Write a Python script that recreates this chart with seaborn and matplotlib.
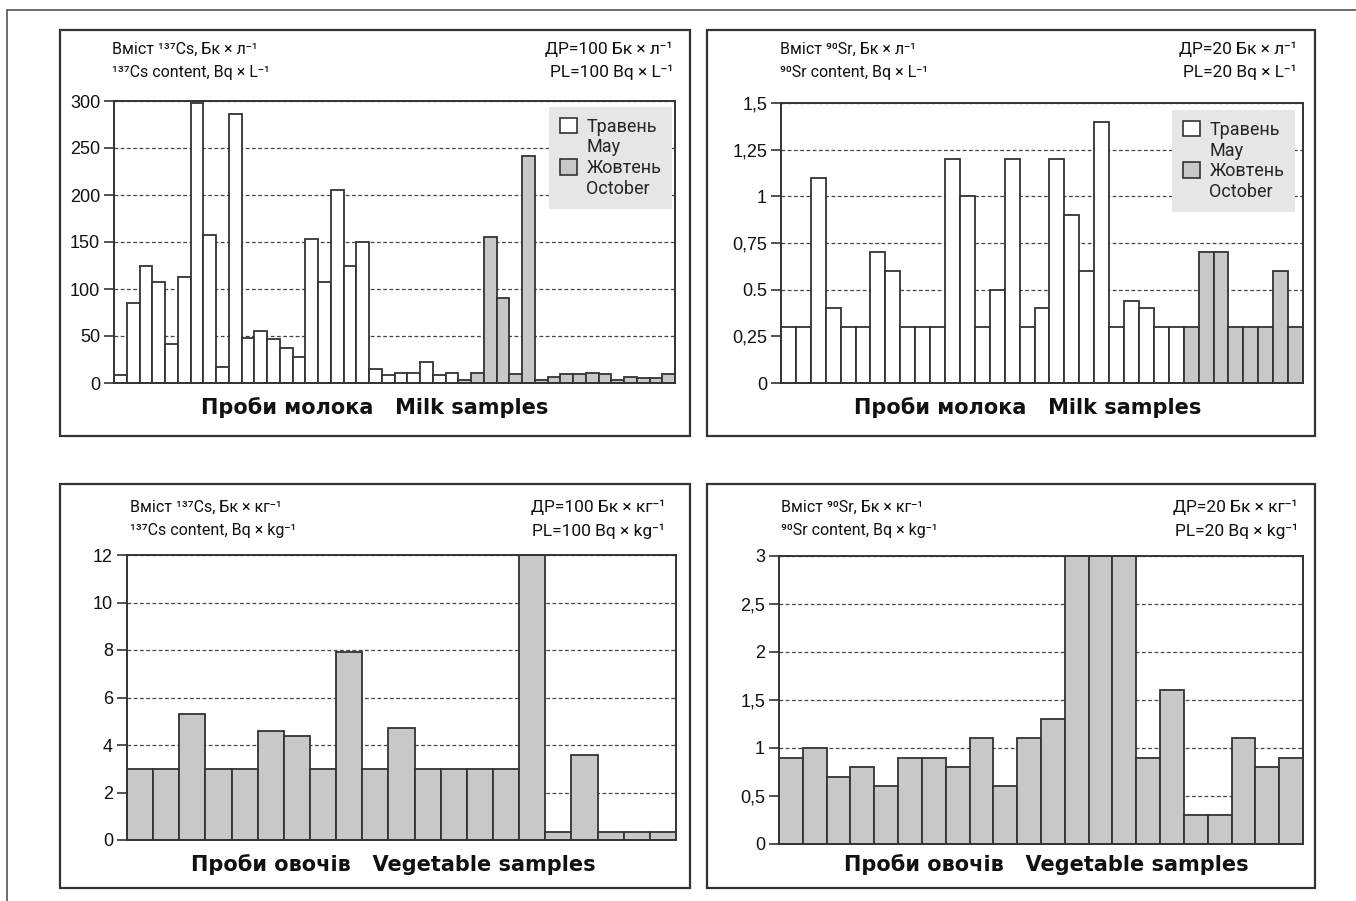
# Вміст 137Cs та 90Sr у пробах молока і овочів
import seaborn as sns
import matplotlib.pyplot as plt
import pandas as pd
from matplotlib.patches import Patch, Rectangle
from matplotlib.lines import Line2D

# --- дані ---
cs_milk = [8, 85, 125, 107, 42, 113, 298, 157, 17, 286, 48, 55, 47, 37, 28,
           153, 107, 205, 125, 150, 15, 8, 11, 11, 22, 8, 11,
           3, 11, 155, 90, 10, 241, 3, 6, 10, 10, 11, 10, 3, 6, 5, 5, 10]
cs_milk_month = ['Травень'] * 27 + ['Жовтень'] * 17

sr_milk = [0.3, 0.3, 1.1, 0.4, 0.3, 0.3, 0.7, 0.6, 0.3, 0.3, 0.3, 1.2, 1.0, 0.3,
           0.5, 1.2, 0.3, 0.4, 1.2, 0.9, 0.6, 1.4, 0.3, 0.44, 0.4, 0.3, 0.3,
           0.3, 0.7, 0.7, 0.3, 0.3, 0.3, 0.6, 0.3]
sr_milk_month = ['Травень'] * 27 + ['Жовтень'] * 8

cs_veg = [3, 3, 5.3, 3, 3, 4.6, 4.4, 3, 7.9, 3, 4.7, 3, 3, 3, 3, 12,
          0.35, 3.6, 0.35, 0.35, 0.35]
sr_veg = [0.9, 1.0, 0.7, 0.8, 0.6, 0.9, 0.9, 0.8, 1.1, 0.6, 1.1, 1.3, 3, 3, 3,
          0.9, 1.6, 0.3, 0.3, 1.1, 0.8, 0.9]

cs_ticks = [0, 50, 100, 150, 200, 250, 300]
sr_ticks = [0, 0.25, 0.5, 0.75, 1, 1.25, 1.5]
sr_labels = ['0', '0,25', '0.5', '0,75', '1', '1,25', '1,5']
cs_veg_ticks = [0, 2, 4, 6, 8, 10, 12]
sr_veg_ticks = [0, 0.5, 1, 1.5, 2, 2.5, 3]
sr_veg_labels = ['0', '0,5', '1', '1,5', '2', '2,5', '3']

W, H = 1356, 901
GRAY = '#c8c8c8'
EDGE = '#333333'
NARROW = ['Roboto', 'DejaVu Sans']

sns.set_style('white')
plt.rcParams['font.family'] = ['Liberation Sans', 'DejaVu Sans']

fig = plt.figure(figsize=(W / 100, H / 100), dpi=100)


def px_axes(x0, x1, y0, y1):
    return fig.add_axes([x0 / W, 1 - y1 / H, (x1 - x0) / W, (y1 - y0) / H])


def px_box(x0, x1, y0, y1):
    fig.add_artist(Rectangle((x0 / W, 1 - y1 / H), (x1 - x0) / W, (y1 - y0) / H,
                             transform=fig.transFigure, fill=False,
                             edgecolor=EDGE, linewidth=1.6))


def px_text(x, y, s, **kw):
    fig.text(x / W, 1 - y / H, s, va='center', **kw)


def draw(ax, vals, months, ticks, labels, top):
    df = pd.DataFrame({'n': range(len(vals)), 'v': vals})
    if months is None:
        sns.barplot(data=df, x='n', y='v', color=GRAY, saturation=1, width=1,
                    edgecolor=EDGE, linewidth=1.3, ax=ax)
    else:
        df['m'] = months
        sns.barplot(data=df, x='n', y='v', hue='m', dodge=False, saturation=1,
                    palette={'Травень': 'white', 'Жовтень': GRAY}, width=1,
                    edgecolor=EDGE, linewidth=1.3, legend=False, ax=ax)
    ax.set_xlim(-0.5, len(vals) - 0.5)
    ax.set_ylim(0, top)
    ax.set_xticks([])
    ax.set_yticks(ticks)
    ax.set_yticklabels(labels)
    ax.set_xlabel('')
    ax.set_ylabel('')
    ax.set_axisbelow(True)
    ax.yaxis.grid(True, linestyle=(0, (3, 2)), color='#444444', linewidth=0.9)
    ax.tick_params(axis='y', left=True, length=7, width=1.2, color=EDGE,
                   labelsize=13, pad=3, labelcolor='#111111')
    for sp in ax.spines.values():
        sp.set_visible(True)
        sp.set_color(EDGE)
        sp.set_linewidth(1.4)


def add_legend(ax, anchor):
    handles = [Patch(facecolor='white', edgecolor=EDGE, linewidth=1.2),
               Patch(facecolor='none', edgecolor='none'),
               Patch(facecolor=GRAY, edgecolor=EDGE, linewidth=1.2),
               Patch(facecolor='none', edgecolor='none')]
    labels = ['Травень', 'May', 'Жовтень', 'October']
    leg = ax.legend(handles, labels, loc='upper right', bbox_to_anchor=anchor,
                    borderaxespad=0, frameon=True, fancybox=False,
                    facecolor='#e6e6e6', edgecolor='none', framealpha=1,
                    handlelength=0.95, handleheight=0.95, handletextpad=0.5,
                    labelspacing=0.15, borderpad=0.6,
                    prop={'family': NARROW, 'size': 13})
    leg.set_zorder(5)


# рамка сторінки
fig.add_artist(Line2D([7 / W, 7 / W], [0, 1 - 10 / H], transform=fig.transFigure,
                      color='#555555', linewidth=1.2))
fig.add_artist(Line2D([7 / W, 1], [1 - 10 / H, 1 - 10 / H], transform=fig.transFigure,
                      color='#555555', linewidth=1.2))

# рамки панелей
px_box(60, 690, 30, 436)
px_box(707, 1315, 30, 436)
px_box(60, 690, 484, 888)
px_box(707, 1315, 484, 888)

# 1) 137Cs, молоко
ax1 = px_axes(114, 675, 101, 383)
draw(ax1, cs_milk, cs_milk_month, cs_ticks, [str(t) for t in cs_ticks], 300)
add_legend(ax1, (0.995, 0.979))

# 2) 90Sr, молоко
ax2 = px_axes(781, 1303, 103, 383)
draw(ax2, sr_milk, sr_milk_month, sr_ticks, sr_labels, 1.5)
add_legend(ax2, (0.985, 0.975))

# 3) 137Cs, овочі
ax3 = px_axes(127, 676, 555, 840)
draw(ax3, cs_veg, None, cs_veg_ticks, [str(t) for t in cs_veg_ticks], 12)

# 4) 90Sr, овочі
ax4 = px_axes(779, 1303, 556, 844)
draw(ax4, sr_veg, None, sr_veg_ticks, sr_veg_labels, 3)

# заголовки
hs = dict(family=NARROW, size=11.5, color='#111111')
hr = dict(family=NARROW, size=12.5, color='#111111', ha='right')
px_text(112, 49, 'Вміст ¹³⁷Cs, Бк × л⁻¹', **hs)
px_text(112, 73, '¹³⁷Cs content, Bq × L⁻¹', **hs)
px_text(673, 49, 'ДР=100 Бк × л⁻¹', **hr)
px_text(673, 72, 'PL=100 Bq × L⁻¹', **hr)

px_text(780, 49, 'Вміст ⁹⁰Sr, Бк × л⁻¹', **hs)
px_text(780, 73, '⁹⁰Sr content, Bq × L⁻¹', **hs)
px_text(1297, 49, 'ДР=20 Бк × л⁻¹', **hr)
px_text(1297, 72, 'PL=20 Bq × L⁻¹', **hr)

px_text(130, 507, 'Вміст ¹³⁷Cs, Бк × кг⁻¹', **hs)
px_text(130, 531, '¹³⁷Cs content, Bq × kg⁻¹', **hs)
px_text(665, 507, 'ДР=100 Бк × кг⁻¹', **hr)
px_text(665, 531, 'PL=100 Bq × kg⁻¹', **hr)

px_text(781, 507, 'Вміст ⁹⁰Sr, Бк × кг⁻¹', **hs)
px_text(781, 531, '⁹⁰Sr content, Bq × kg⁻¹', **hs)
px_text(1298, 507, 'ДР=20 Бк × кг⁻¹', **hr)
px_text(1298, 531, 'PL=20 Bq × kg⁻¹', **hr)

# підписи осей
xl = dict(family=['DejaVu Sans'], size=15, weight='bold', color='#111111', ha='center')
px_text(375, 408, 'Проби молока   Milk samples', **xl)
px_text(1028, 408, 'Проби молока   Milk samples', **xl)
px_text(393, 865, 'Проби овочів   Vegetable samples', **xl)
px_text(1046, 865, 'Проби овочів   Vegetable samples', **xl)

fig.savefig('out.png', dpi=100, facecolor='white')
